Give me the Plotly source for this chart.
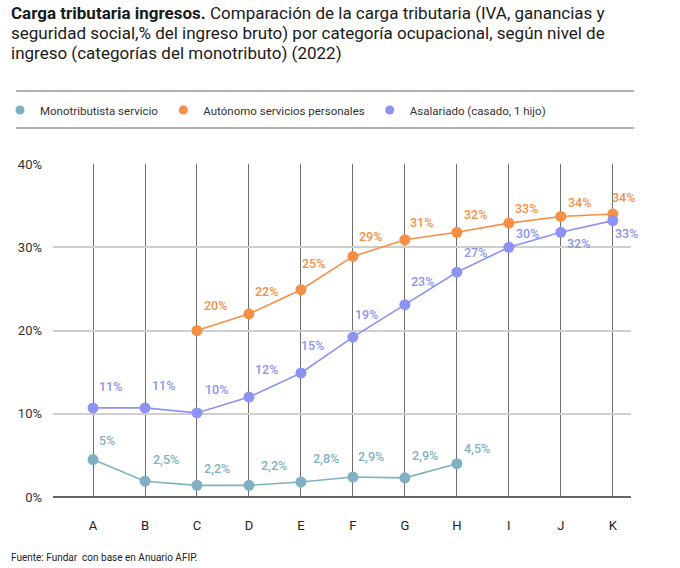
import plotly.graph_objects as go

categories = ["A", "B", "C", "D", "E", "F", "G", "H", "I", "J", "K"]

mono_values = [4.5, 1.9, 1.4, 1.4, 1.8, 2.4, 2.3, 4.0, None, None, None]
mono_labels = ["5%", "2,5%", "2,2%", "2,2%", "2,8%", "2,9%", "2,9%", "4,5%", None, None, None]

auto_values = [None, None, 20.0, 22.0, 24.9, 28.9, 30.9, 31.8, 32.9, 33.7, 34.0]
auto_labels = [None, None, "20%", "22%", "25%", "29%", "31%", "32%", "33%", "34%", "34%"]

asal_values = [10.7, 10.7, 10.1, 12.0, 14.9, 19.2, 23.1, 27.0, 30.0, 31.8, 33.2]
asal_labels = ["11%", "11%", "10%", "12%", "15%", "19%", "23%", "27%", "30%", "32%", "33%"]

y_ticks = [0, 10, 20, 30, 40]
y_tick_text = ["0%", "10%", "20%", "30%", "40%"]

title_lines = [
    "<b>Carga tributaria ingresos.</b> Comparación de la carga tributaria (IVA, ganancias y",
    "seguridad social,% del ingreso bruto) por categoría ocupacional, según nivel de",
    "ingreso (categorías del monotributo) (2022)",
]
source_text = "Fuente: Fundar  con base en Anuario AFIP."

# label offsets (pixels) - styling only
mono_dx = [14, 21, 20, 25, 25, 18, 20, 20, 0, 0, 0]
mono_dy = [19, 22, 17, 20, 24, 21, 22, 15, 0, 0, 0]
auto_dx = [0, 0, 19, 18, 13, 18, 17, 19, 18, 19, 11]
auto_dy = [0, 0, 25, 22, 26, 20, 17, 18, 15, 14, 16]
asal_dx = [17, 18, 20, 18, 12, 14, 18, 19, 19, 18, 14]
asal_dy = [21, 22, 23, 28, 27, 23, 23, 20, 14, -11, -13]

C_MONO = "#7fb1c2"
C_AUTO = "#f78f45"
C_ASAL = "#8c93f2"
FONT = "Roboto"

W, H = 680, 568
L, T, B, R = 53, 164, 71, 49
PH = H - T - B


def px(xp):
    return (xp - L) / (W - L - R)


def py(yp):
    return (H - B - yp) / PH


fig = go.Figure()
series = [
    ("Monotributista servicio", mono_values, mono_labels, C_MONO, mono_dx, mono_dy),
    ("Autónomo servicios personales", auto_values, auto_labels, C_AUTO, auto_dx, auto_dy),
    ("Asalariado (casado, 1 hijo)", asal_values, asal_labels, C_ASAL, asal_dx, asal_dy),
]
for name, vals, labs, col, dxs, dys in series:
    fig.add_trace(go.Scatter(
        x=categories, y=vals, name=name, mode="lines+markers",
        line=dict(color=col, width=1.6),
        marker=dict(color=col, size=11),
        connectgaps=False, cliponaxis=False, showlegend=False,
    ))
    # legend entry (dot only)
    fig.add_trace(go.Scatter(
        x=[None], y=[None], name=name, mode="markers",
        marker=dict(color=col, size=9), showlegend=True,
    ))
    for c, v, t, dx, dy in zip(categories, vals, labs, dxs, dys):
        if v is None or t is None:
            continue
        fig.add_annotation(
            x=c, y=v, text=t, showarrow=False, xshift=dx, yshift=dy,
            font=dict(family=FONT, size=12.5, color=col, weight=500),
        )

for i, line in enumerate(title_lines):
    fig.add_annotation(
        xref="paper", yref="paper", x=px(9), y=py(13 + 20 * i),
        xanchor="left", yanchor="middle", align="left", showarrow=False,
        text=line, font=dict(family=FONT, size=17, color="#1a1a1a"),
    )

fig.add_annotation(
    xref="paper", yref="paper", x=px(9), y=py(557),
    xanchor="left", yanchor="middle",
    text=source_text, showarrow=False,
    font=dict(family=FONT, size=10, color="#222"),
)

for yy in (91, 128):
    fig.add_shape(type="line", xref="paper", yref="paper",
                  x0=px(16), x1=px(634), y0=py(yy), y1=py(yy),
                  line=dict(color="#666", width=1.2))

fig.update_layout(
    width=W, height=H,
    margin=dict(l=L, r=R, t=T, b=B, autoexpand=False),
    paper_bgcolor="white", plot_bgcolor="white",
    font=dict(family=FONT, color="#222"),
    showlegend=True,
    legend=dict(
        orientation="h", xref="container", yref="container",
        x=-2 / W, xanchor="left", y=1 - 110 / H, yanchor="middle",
        font=dict(family=FONT, size=11.5, color="#333"),
        bgcolor="rgba(0,0,0,0)",
    ),
    xaxis=dict(
        type="category", range=[-0.77, 10.35],
        showgrid=True, gridcolor="#6e6e6e", gridwidth=1.3,
        showline=False, zeroline=False,
        ticks="outside", ticklen=12, tickcolor="rgba(0,0,0,0)",
        ticklabelstandoff=4,
        tickfont=dict(family=FONT, size=13, color="#222"),
    ),
    yaxis=dict(
        range=[0, 40], tickvals=y_ticks, ticktext=y_tick_text,
        showgrid=True, gridcolor="#cfcfcf", gridwidth=1.5,
        zeroline=True, zerolinecolor="#666", zerolinewidth=1.5,
        showline=False, ticks="", ticklabelstandoff=10,
        tickfont=dict(family=FONT, size=13, color="#333"),
    ),
)

fig.write_html(
    "out.html",
    config={"displayModeBar": False},
    post_script="document.body.style.margin='0px';document.body.style.overflow='hidden';",
)
